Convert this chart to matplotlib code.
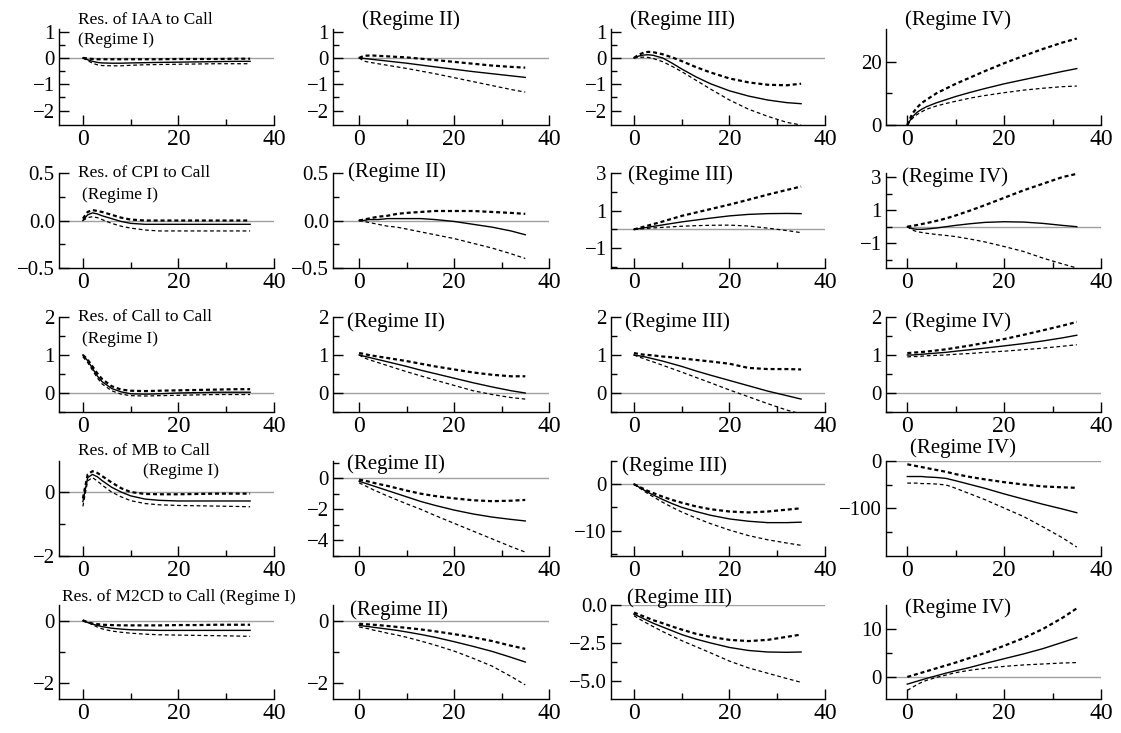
import matplotlib
matplotlib.use('Agg')
import matplotlib.pyplot as plt
from matplotlib.ticker import FixedLocator, FuncFormatter

plt.rcParams['font.family'] = ['Liberation Serif', 'DejaVu Serif']

# ---------------- data ----------------
horizon = [0, 1, 2, 3, 4, 6, 8, 10, 13, 16, 20, 24, 28, 32, 35]

# Row 1: response of IAA to Call
IAA_I_mid = [0, -0.07, -0.13, -0.17, -0.19, -0.2, -0.2, -0.19, -0.18, -0.17, -0.16, -0.15, -0.14, -0.13, -0.13]
IAA_I_up = [0, -0.02, -0.04, -0.05, -0.05, -0.05, -0.05, -0.05, -0.05, -0.05, -0.04, -0.04, -0.04, -0.03, -0.03]
IAA_I_lo = [0, -0.1, -0.2, -0.26, -0.29, -0.3, -0.3, -0.28, -0.26, -0.25, -0.24, -0.23, -0.22, -0.22, -0.22]
IAA_II_mid = [0, -0.02, -0.04, -0.06, -0.08, -0.12, -0.16, -0.2, -0.27, -0.34, -0.43, -0.52, -0.6, -0.68, -0.74]
IAA_II_up = [0, 0.08, 0.09, 0.09, 0.08, 0.06, 0.04, 0.02, -0.03, -0.08, -0.15, -0.22, -0.29, -0.34, -0.37]
IAA_II_lo = [0, -0.12, -0.16, -0.19, -0.22, -0.28, -0.34, -0.4, -0.5, -0.6, -0.75, -0.9, -1.05, -1.2, -1.3]
IAA_III_mid = [0, 0.07, 0.11, 0.12, 0.1, 0.0, -0.2, -0.42, -0.72, -0.98, -1.25, -1.45, -1.6, -1.7, -1.74]
IAA_III_up = [0, 0.12, 0.2, 0.23, 0.22, 0.14, 0.02, -0.12, -0.35, -0.55, -0.78, -0.93, -1.02, -1.04, -0.98]
IAA_III_lo = [0, 0.02, 0.03, 0.02, -0.02, -0.14, -0.32, -0.52, -0.85, -1.18, -1.6, -1.95, -2.22, -2.45, -2.55]
IAA_IV_mid = [0, 2.5, 4, 5, 5.8, 7, 8, 9, 10.3, 11.5, 13, 14.3, 15.6, 16.9, 17.8]
IAA_IV_up = [0, 3.5, 5.5, 7, 8, 10, 11.5, 13, 15, 17, 19.5, 21.8, 24, 26, 27.3]
IAA_IV_lo = [0, 2, 3.3, 4.2, 5, 6, 6.8, 7.5, 8.5, 9.3, 10.2, 11, 11.6, 12.1, 12.3]

# Row 2: response of CPI to Call
CPI_I_mid = [0, 0.06, 0.08, 0.07, 0.05, 0.02, -0.01, -0.03, -0.04, -0.04, -0.04, -0.04, -0.04, -0.04, -0.04]
CPI_I_up = [0.02, 0.09, 0.11, 0.1, 0.09, 0.06, 0.03, 0.01, 0.0, 0.0, 0.0, 0.0, 0.0, 0.0, 0.0]
CPI_I_lo = [0, 0.03, 0.04, 0.03, 0.01, -0.03, -0.06, -0.08, -0.1, -0.11, -0.11, -0.11, -0.11, -0.11, -0.11]
CPI_II_mid = [0, 0.0, 0.01, 0.01, 0.01, 0.02, 0.02, 0.02, 0.02, 0.01, -0.01, -0.04, -0.07, -0.11, -0.15]
CPI_II_up = [0, 0.01, 0.02, 0.03, 0.04, 0.05, 0.07, 0.08, 0.09, 0.1, 0.1, 0.1, 0.09, 0.08, 0.07]
CPI_II_lo = [0, -0.01, -0.02, -0.03, -0.04, -0.06, -0.07, -0.09, -0.12, -0.15, -0.19, -0.24, -0.29, -0.35, -0.4]
CPI_III_mid = [0, 0.04, 0.08, 0.12, 0.16, 0.24, 0.32, 0.4, 0.5, 0.6, 0.72, 0.8, 0.84, 0.85, 0.84]
CPI_III_up = [0, 0.07, 0.14, 0.21, 0.28, 0.42, 0.57, 0.72, 0.9, 1.08, 1.32, 1.58, 1.85, 2.1, 2.28]
CPI_III_lo = [0, 0.02, 0.04, 0.06, 0.08, 0.11, 0.14, 0.17, 0.2, 0.22, 0.23, 0.18, 0.07, -0.06, -0.17]
CPI_IV_mid = [0, -0.12, -0.16, -0.16, -0.14, -0.08, 0.0, 0.08, 0.18, 0.26, 0.3, 0.28, 0.2, 0.08, 0.0]
CPI_IV_up = [0, 0.05, 0.1, 0.16, 0.22, 0.35, 0.5, 0.68, 0.98, 1.3, 1.75, 2.2, 2.6, 3.0, 3.2]
CPI_IV_lo = [0, -0.2, -0.3, -0.35, -0.4, -0.47, -0.53, -0.6, -0.75, -0.92, -1.2, -1.5, -1.9, -2.25, -2.5]

# Row 3: response of Call to Call
CALL_I_mid = [1.0, 0.85, 0.65, 0.45, 0.3, 0.12, 0.03, -0.02, -0.03, -0.02, 0.0, 0.01, 0.02, 0.02, 0.02]
CALL_I_up = [1.0, 0.88, 0.7, 0.52, 0.37, 0.18, 0.09, 0.06, 0.05, 0.06, 0.07, 0.08, 0.09, 0.1, 0.1]
CALL_I_lo = [0.95, 0.8, 0.6, 0.4, 0.24, 0.06, -0.03, -0.07, -0.08, -0.07, -0.06, -0.05, -0.04, -0.04, -0.04]
CALL_II_mid = [1.0, 0.97, 0.94, 0.91, 0.88, 0.82, 0.76, 0.7, 0.6, 0.51, 0.39, 0.27, 0.16, 0.06, 0.0]
CALL_II_up = [1.05, 1.03, 1.0, 0.98, 0.96, 0.92, 0.88, 0.84, 0.77, 0.7, 0.62, 0.54, 0.48, 0.44, 0.44]
CALL_II_lo = [1.0, 0.93, 0.88, 0.84, 0.8, 0.72, 0.64, 0.56, 0.45, 0.34, 0.2, 0.06, -0.04, -0.12, -0.16]
CALL_III_mid = [1.0, 0.98, 0.96, 0.93, 0.9, 0.84, 0.77, 0.7, 0.58, 0.47, 0.33, 0.19, 0.05, -0.07, -0.16]
CALL_III_up = [1.05, 1.03, 1.01, 1.0, 0.99, 0.96, 0.94, 0.91, 0.87, 0.83, 0.77, 0.66, 0.63, 0.63, 0.62]
CALL_III_lo = [1.0, 0.95, 0.91, 0.86, 0.82, 0.73, 0.64, 0.55, 0.41, 0.27, 0.08, -0.1, -0.28, -0.45, -0.55]
CALL_IV_mid = [1.0, 1.0, 1.01, 1.02, 1.03, 1.05, 1.07, 1.1, 1.14, 1.18, 1.24, 1.3, 1.37, 1.45, 1.52]
CALL_IV_up = [1.05, 1.06, 1.07, 1.08, 1.09, 1.12, 1.15, 1.19, 1.25, 1.32, 1.42, 1.53, 1.65, 1.77, 1.87]
CALL_IV_lo = [0.95, 0.96, 0.96, 0.97, 0.98, 0.99, 1.0, 1.02, 1.04, 1.07, 1.1, 1.14, 1.18, 1.23, 1.27]

# Row 4: response of MB to Call
MB_I_mid = [-0.3, 0.45, 0.55, 0.48, 0.36, 0.15, 0.0, -0.12, -0.22, -0.26, -0.28, -0.28, -0.28, -0.28, -0.28]
MB_I_up = [-0.2, 0.55, 0.65, 0.6, 0.5, 0.3, 0.12, 0.0, -0.06, -0.07, -0.07, -0.06, -0.05, -0.05, -0.05]
MB_I_lo = [-0.45, 0.35, 0.45, 0.35, 0.22, 0.0, -0.15, -0.27, -0.36, -0.4, -0.42, -0.43, -0.44, -0.45, -0.46]
MB_II_mid = [-0.2, -0.3, -0.4, -0.5, -0.6, -0.8, -1.0, -1.2, -1.5, -1.75, -2.05, -2.3, -2.5, -2.65, -2.75]
MB_II_up = [-0.1, -0.15, -0.22, -0.3, -0.37, -0.5, -0.65, -0.8, -1.0, -1.15, -1.3, -1.42, -1.48, -1.45, -1.4]
MB_II_lo = [-0.3, -0.45, -0.6, -0.75, -0.88, -1.15, -1.4, -1.65, -2.0, -2.4, -2.9, -3.4, -3.9, -4.4, -4.75]
MB_III_mid = [0, -0.6, -1.2, -1.8, -2.3, -3.3, -4.2, -5.0, -5.9, -6.7, -7.5, -8.0, -8.3, -8.3, -8.2]
MB_III_up = [0, -0.5, -1.0, -1.5, -1.9, -2.7, -3.4, -4.0, -4.8, -5.4, -5.9, -6.1, -5.9, -5.5, -5.2]
MB_III_lo = [0, -0.7, -1.4, -2.1, -2.7, -3.9, -5.0, -6.0, -7.3, -8.5, -9.9, -11.1, -12.0, -12.7, -13.2]
MB_IV_mid = [-33, -33, -33, -33, -34, -35, -37, -42, -50, -58, -70, -81, -92, -102, -110]
MB_IV_up = [-7, -9, -11, -13, -15, -19, -23, -28, -34, -39, -45, -50, -54, -56, -57]
MB_IV_lo = [-47, -47, -47, -48, -48, -49, -51, -58, -70, -82, -100, -118, -140, -163, -183]

# Row 5: response of M2CD to Call
M2_I_mid = [0, -0.06, -0.11, -0.15, -0.19, -0.24, -0.27, -0.29, -0.3, -0.31, -0.31, -0.31, -0.31, -0.31, -0.31]
M2_I_up = [0, -0.05, -0.09, -0.11, -0.13, -0.14, -0.15, -0.15, -0.15, -0.15, -0.14, -0.14, -0.13, -0.13, -0.13]
M2_I_lo = [0.03, -0.05, -0.13, -0.2, -0.26, -0.33, -0.37, -0.4, -0.43, -0.45, -0.46, -0.47, -0.48, -0.49, -0.5]
M2_II_mid = [-0.15, -0.17, -0.19, -0.21, -0.23, -0.27, -0.31, -0.36, -0.44, -0.53, -0.67, -0.82, -0.98, -1.17, -1.32]
M2_II_up = [-0.1, -0.11, -0.12, -0.13, -0.14, -0.17, -0.2, -0.23, -0.28, -0.34, -0.43, -0.53, -0.65, -0.8, -0.9]
M2_II_lo = [-0.2, -0.23, -0.26, -0.3, -0.33, -0.4, -0.46, -0.53, -0.65, -0.78, -0.97, -1.2, -1.45, -1.78, -2.05]
M2_III_mid = [-0.6, -0.75, -0.9, -1.05, -1.2, -1.45, -1.7, -1.95, -2.25, -2.5, -2.8, -3.0, -3.1, -3.12, -3.1]
M2_III_up = [-0.5, -0.62, -0.75, -0.87, -1.0, -1.2, -1.42, -1.62, -1.9, -2.1, -2.3, -2.38, -2.3, -2.1, -1.95]
M2_III_lo = [-0.7, -0.9, -1.08, -1.25, -1.42, -1.75, -2.05, -2.35, -2.75, -3.15, -3.7, -4.15, -4.5, -4.85, -5.1]
M2_IV_mid = [-1.5, -1.2, -0.9, -0.6, -0.3, 0.25, 0.8, 1.3, 2.0, 2.8, 3.8, 4.8, 5.9, 7.2, 8.2]
M2_IV_up = [0.0, 0.3, 0.6, 0.9, 1.2, 1.8, 2.4, 3.0, 4.0, 5.0, 6.5, 8.1, 10.0, 12.3, 14.3]
M2_IV_lo = [-2.8, -2.2, -1.6, -1.1, -0.7, -0.1, 0.4, 0.9, 1.4, 1.8, 2.2, 2.5, 2.7, 2.9, 3.0]

x_ticks = [0, 20, 40]
x_minor = [10, 30]

panels = [
    [(IAA_I_mid, IAA_I_up, IAA_I_lo), (IAA_II_mid, IAA_II_up, IAA_II_lo),
     (IAA_III_mid, IAA_III_up, IAA_III_lo), (IAA_IV_mid, IAA_IV_up, IAA_IV_lo)],
    [(CPI_I_mid, CPI_I_up, CPI_I_lo), (CPI_II_mid, CPI_II_up, CPI_II_lo),
     (CPI_III_mid, CPI_III_up, CPI_III_lo), (CPI_IV_mid, CPI_IV_up, CPI_IV_lo)],
    [(CALL_I_mid, CALL_I_up, CALL_I_lo), (CALL_II_mid, CALL_II_up, CALL_II_lo),
     (CALL_III_mid, CALL_III_up, CALL_III_lo), (CALL_IV_mid, CALL_IV_up, CALL_IV_lo)],
    [(MB_I_mid, MB_I_up, MB_I_lo), (MB_II_mid, MB_II_up, MB_II_lo),
     (MB_III_mid, MB_III_up, MB_III_lo), (MB_IV_mid, MB_IV_up, MB_IV_lo)],
    [(M2_I_mid, M2_I_up, M2_I_lo), (M2_II_mid, M2_II_up, M2_II_lo),
     (M2_III_mid, M2_III_up, M2_III_lo), (M2_IV_mid, M2_IV_up, M2_IV_lo)],
]

# y axis settings per panel: (ylim, major ticks, minor ticks, decimals)
yaxes = [
    [((-2.55, 1.1), [-2, -1, 0, 1], [-1.5, -0.5, 0.5], 0),
     ((-2.55, 1.1), [-2, -1, 0, 1], [-1.5, -0.5, 0.5], 0),
     ((-2.55, 1.1), [-2, -1, 0, 1], [-1.5, -0.5, 0.5], 0),
     ((0, 30.3), [0, 20], [10], 0)],
    [((-0.5, 0.5), [-0.5, 0.0, 0.5], [-0.25, 0.25], 1),
     ((-0.5, 0.5), [-0.5, 0.0, 0.5], [-0.25, 0.25], 1),
     ((-2.05, 3.0), [-1, 1, 3], [-2, 0, 2], 0),
     ((-2.5, 3.25), [-1, 1, 3], [-2, 0, 2], 0)],
    [((-0.5, 2.0), [0, 1, 2], [-0.5, 0.5, 1.5], 0),
     ((-0.5, 2.0), [0, 1, 2], [-0.5, 0.5, 1.5], 0),
     ((-0.5, 2.0), [0, 1, 2], [-0.5, 0.5, 1.5], 0),
     ((-0.5, 2.0), [0, 1, 2], [-0.5, 0.5, 1.5], 0)],
    [((-2.0, 0.97), [-2, 0], [-1], 0),
     ((-5.0, 1.1), [-4, -2, 0], [-5, -3, -1, 1], 0),
     ((-15.5, 5.0), [-10, 0], [-15, -5, 5], 0),
     ((-202, 0), [-100, 0], [-150, -50], 0)],
    [((-2.5, 0.5), [-2, 0], [-1], 0),
     ((-2.5, 0.5), [-2, 0], [-1], 0),
     ((-6.2, 0.0), [-5.0, -2.5, 0.0], [-3.75, -1.25], 1),
     ((-4.6, 15.0), [0, 10], [5], 0)],
]

col1_titles = ["Res. of IAA to Call", "Res. of CPI to Call", "Res. of Call to Call",
               "Res. of MB to Call", "Res. of M2CD to Call (Regime I)"]
col1_sub = ["(Regime I)", "(Regime I)", "(Regime I)", "(Regime I)", None]
regime_labels = ["(Regime II)", "(Regime III)", "(Regime IV)"]

# ---------------- layout (pixels) ----------------
W, H = 1121, 733
col_left = [59, 333, 611, 886]
col_right = [274, 549, 825, 1101]
col_xmin = [-5.0, -5.5, -4.8, -4.4]
row_top = [29, 173, 317, 461, 605]
row_bot = [125, 268, 412, 556, 699]

title_pos = [(78, 20), (78, 173), (78, 317), (78, 451), (62, 597)]
sub_pos = [(78, 40), (82, 195), (82, 339), (143, 471), None]
regime_pos = [
    [(362, 20), (630, 20), (905, 20)],
    [(348, 172), (628, 175), (902, 177)],
    [(347, 322), (625, 322), (905, 322)],
    [(347, 464), (622, 466), (910, 448)],
    [(350, 610), (627, 598), (905, 608)],
]


def fx(x):
    return x / W


def fy(y):
    return 1 - y / H


def make_fmt(dec):
    def f(v, pos):
        if abs(v) < 1e-9:
            v = 0.0
        s = f"{v:.{dec}f}"
        return s.replace('-', '\u2212')
    return FuncFormatter(f)


fig = plt.figure(figsize=(11.21, 7.33), dpi=100)

for r in range(5):
    for c in range(4):
        ax = fig.add_axes([fx(col_left[c]), fy(row_bot[r]),
                           fx(col_right[c] - col_left[c]),
                           (row_bot[r] - row_top[r]) / H])
        mid, up, lo = panels[r][c]
        ylim, ymaj, ymin, dec = yaxes[r][c]
        ax.axhline(0, color='#a0a0a0', lw=1.0, zorder=1)
        ax.plot(horizon, mid, color='black', lw=1.0, zorder=3)
        ax.plot(horizon, up, color='black', lw=1.6, ls=(0, (1.8, 1.3)), zorder=3)
        ax.plot(horizon, lo, color='black', lw=0.9, ls=(0, (3.0, 2.2)), zorder=3)
        ax.set_xlim(col_xmin[c], 40)
        ax.set_ylim(*ylim)
        for s in ['top', 'right']:
            ax.spines[s].set_visible(False)
        for s in ['left', 'bottom']:
            ax.spines[s].set_linewidth(1.0)
        ax.xaxis.set_major_locator(FixedLocator(x_ticks))
        ax.xaxis.set_minor_locator(FixedLocator(x_minor))
        ax.yaxis.set_major_locator(FixedLocator(ymaj))
        ax.yaxis.set_minor_locator(FixedLocator(ymin))
        ax.yaxis.set_major_formatter(make_fmt(dec))
        ax.tick_params(axis='both', which='major', direction='in', length=7, width=1.0)
        ax.tick_params(axis='both', which='minor', direction='in', length=4, width=1.0)
        ax.tick_params(axis='x', which='major', labelsize=17, pad=3)
        ax.tick_params(axis='y', which='major', labelsize=15, pad=3)
        ax.patch.set_alpha(0)

# titles
for r in range(5):
    x, y = title_pos[r]
    fig.text(fx(x), fy(y), col1_titles[r], fontsize=12.5, ha='left', va='center')
    if col1_sub[r] is not None:
        x, y = sub_pos[r]
        fig.text(fx(x), fy(y), col1_sub[r], fontsize=12.5, ha='left', va='center')
    for k in range(3):
        x, y = regime_pos[r][k]
        fig.text(fx(x), fy(y), regime_labels[k], fontsize=15, ha='left', va='center')

fig.savefig('out.png', dpi=100)
